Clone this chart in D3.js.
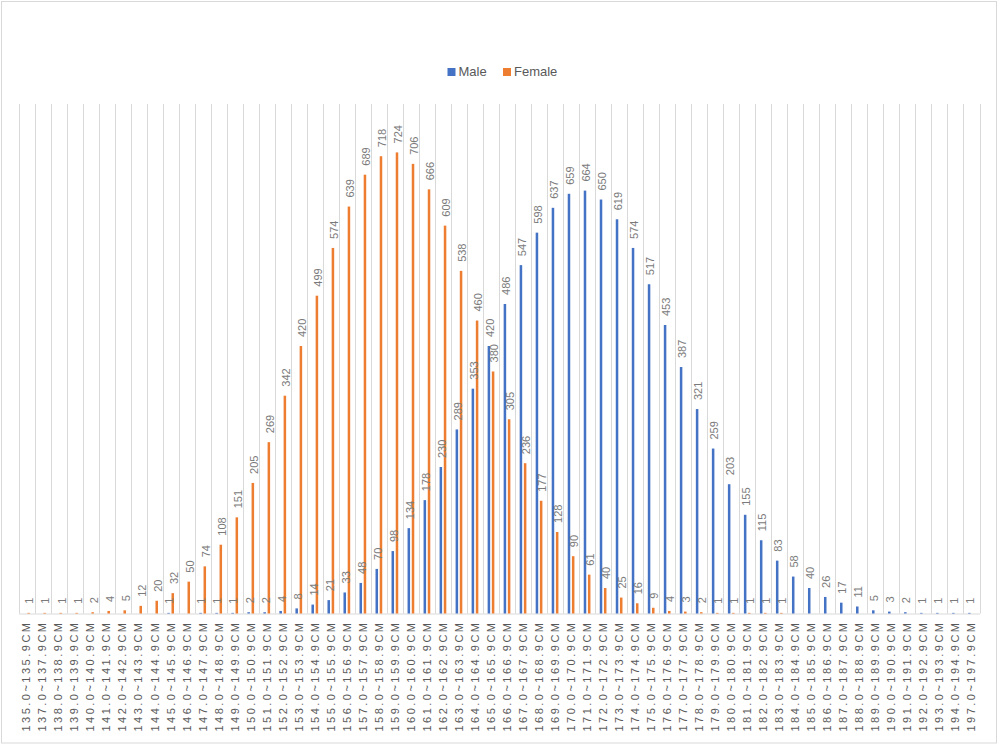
<!DOCTYPE html>
<html>
<head>
<meta charset="utf-8">
<script src="https://cdn.jsdelivr.net/npm/d3@7"></script>
<style>
  html, body { margin: 0; padding: 0; background: #fff; }
  svg { display: block; }
</style>
</head>
<body>
<svg id="chart" width="999" height="745"></svg>
<script>
const categories = [
  "135.0~135.9CM","137.0~137.9CM","138.0~138.9CM","139.0~139.9CM","140.0~140.9CM",
  "141.0~141.9CM","142.0~142.9CM","143.0~143.9CM","144.0~144.9CM","145.0~145.9CM",
  "146.0~146.9CM","147.0~147.9CM","148.0~148.9CM","149.0~149.9CM","150.0~150.9CM",
  "151.0~151.9CM","152.0~152.9CM","153.0~153.9CM","154.0~154.9CM","155.0~155.9CM",
  "156.0~156.9CM","157.0~157.9CM","158.0~158.9CM","159.0~159.9CM","160.0~160.9CM",
  "161.0~161.9CM","162.0~162.9CM","163.0~163.9CM","164.0~164.9CM","165.0~165.9CM",
  "166.0~166.9CM","167.0~167.9CM","168.0~168.9CM","169.0~169.9CM","170.0~170.9CM",
  "171.0~171.9CM","172.0~172.9CM","173.0~173.9CM","174.0~174.9CM","175.0~175.9CM",
  "176.0~176.9CM","177.0~177.9CM","178.0~178.9CM","179.0~179.9CM","180.0~180.9CM",
  "181.0~181.9CM","182.0~182.9CM","183.0~183.9CM","184.0~184.9CM","185.0~185.9CM",
  "186.0~186.9CM","187.0~187.9CM","188.0~188.9CM","189.0~189.9CM","190.0~190.9CM",
  "191.0~191.9CM","192.0~192.9CM","193.0~193.9CM","194.0~194.9CM","197.0~197.9CM"
];

const male = [
  null,null,null,null,null, null,null,null,null,1,
  null,1,1,1,2, 2,4,8,14,21,
  33,48,70,98,134, 178,230,289,353,420,
  486,547,598,637,659, 664,650,619,574,517,
  453,387,321,259,203, 155,115,83,58,40,
  26,17,11,5,3, 2,1,1,1,1
];

const female = [
  1,1,1,1,2, 4,5,12,20,32,
  50,74,108,151,205, 269,342,420,499,574,
  639,689,718,724,706, 666,609,538,460,380,
  305,236,177,128,90, 61,40,25,16,9,
  4,3,2,1,1, 1,1,1,null,null,
  null,null,null,null,null, null,null,null,null,null
];

const seriesNames = ["Male", "Female"];
const seriesColors = ["#4472C4", "#ED7D31"];
const yMax = 800;

const svg = d3.select("#chart");
const W = 999, H = 745;
const plot = { left: 18.5, right: 979.5, top: 104, bottom: 613.5 };

// chart area border
svg.append("rect")
  .attr("x", 1.5).attr("y", 1.5)
  .attr("width", 995).attr("height", 741.5)
  .attr("fill", "#fff").attr("stroke", "#d9d9d9").attr("stroke-width", 1);

const x0 = d3.scaleBand().domain(categories).range([plot.left, plot.right]).padding(0);
const bw = x0.bandwidth();
const x1 = d3.scaleBand().domain(seriesNames)
  .range([bw / 2 - 4.2, bw / 2 + 4.2]).paddingInner(0.4).paddingOuter(0.2);
const y = d3.scaleLinear().domain([0, yMax]).range([plot.bottom, plot.top]);

// vertical category gridlines
const bounds = categories.map(c => x0(c)).concat([plot.right]);
svg.append("g").selectAll("line").data(bounds).join("line")
  .attr("x1", d => Math.round(d) + 0.5).attr("x2", d => Math.round(d) + 0.5)
  .attr("y1", plot.top).attr("y2", plot.bottom)
  .attr("stroke", "#d9d9d9").attr("stroke-width", 1);

// category axis
const xAxis = d3.axisBottom(x0).tickSize(0).tickPadding(0);
const gx = svg.append("g").attr("transform", `translate(0,${plot.bottom})`).call(xAxis);
gx.select(".domain").attr("stroke", "#d9d9d9").attr("stroke-width", 1);
gx.selectAll(".tick text")
  .attr("transform", "translate(0,7) rotate(-90)")
  .attr("x", 0).attr("y", 0).attr("dy", "0.35em")
  .attr("text-anchor", "end")
  .attr("fill", "#595959")
  .style("font-family", "'Liberation Sans', Arial, sans-serif")
  .style("font-size", "11px")
  .style("letter-spacing", "2.5px");

// bars
const data = categories.map((c, i) => ({ c, vals: [male[i], female[i]] }));
const groups = svg.append("g").selectAll("g").data(data).join("g")
  .attr("transform", d => `translate(${x0(d.c)},0)`);

groups.selectAll("rect")
  .data(d => d.vals.map((v, k) => ({ v, k })).filter(o => o.v !== null))
  .join("rect")
  .attr("x", o => x1(seriesNames[o.k]))
  .attr("width", x1.bandwidth())
  .attr("y", o => y(o.v))
  .attr("height", o => plot.bottom - y(o.v))
  .attr("fill", o => seriesColors[o.k]);

// data labels
groups.selectAll("text")
  .data(d => d.vals.map((v, k) => ({ v, k })).filter(o => o.v !== null))
  .join("text")
  .attr("transform", o => `translate(${x1(seriesNames[o.k]) + x1.bandwidth() / 2 + 1},${y(o.v) - 9}) rotate(-90)`)
  .attr("dy", "0.35em")
  .attr("text-anchor", "start")
  .attr("fill", "#7a7a7a")
  .style("font-family", "'Liberation Sans', Arial, sans-serif")
  .style("font-size", "11px")
  .text(o => o.v);

// legend
const legend = svg.append("g").attr("transform", "translate(447.5,68)");
const legendItems = [
  { name: seriesNames[0], color: seriesColors[0], x: 0 },
  { name: seriesNames[1], color: seriesColors[1], x: 55.5 }
];
const li = legend.selectAll("g").data(legendItems).join("g")
  .attr("transform", d => `translate(${d.x},0)`);
li.append("rect").attr("width", 8).attr("height", 8).attr("fill", d => d.color);
li.append("text").attr("x", 11).attr("y", 8.3)
  .attr("fill", "#595959")
  .style("font-family", "'Liberation Sans', Arial, sans-serif")
  .style("font-size", "13px")
  .text(d => d.name);
</script>
</body>
</html>
